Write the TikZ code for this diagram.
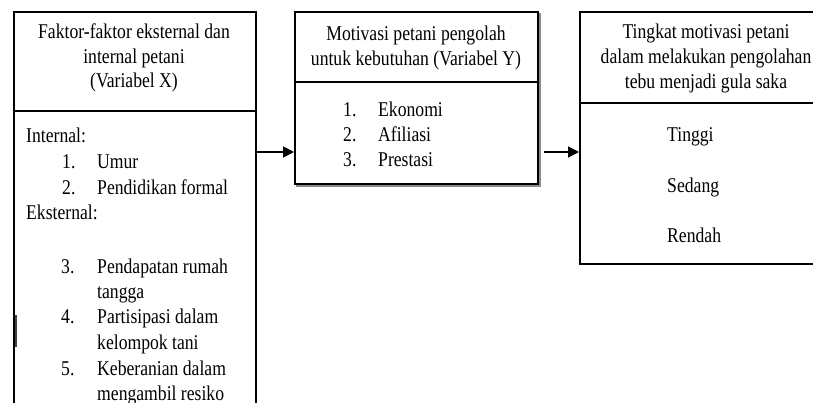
\documentclass[tikz,border=0pt]{standalone}
\usepackage{fontspec}
\setmainfont{Liberation Serif}[FakeStretch=0.84]
\usetikzlibrary{arrows.meta}
\begin{document}
\begin{tikzpicture}[x=1pt,y=-1pt,
  box/.style={draw=black,line width=2pt,fill=white,anchor=north west,inner sep=0pt},
  divider/.style={line width=1.7pt},
  txt/.style={inner sep=0pt,font=\fontsize{21}{24}\selectfont},
  lt/.style={txt,anchor=base west},
  ct/.style={txt,anchor=base},
  arr/.style={line width=1.6pt,-{Triangle[length=11pt,width=11pt]}}
]
\useasboundingbox (0,0) rectangle (813,403);
\begin{scope}
\clip (0,0) rectangle (813,403);
% boxes
\node[box,minimum width=242pt,minimum height=420pt] (L) at (13,11) {};
\draw[line width=1.8pt,black!45] (297,14) rectangle (540,186);
\node[box,minimum width=243pt,minimum height=172pt] (M) at (294,11) {};
\node[box,minimum width=260pt,minimum height=252pt] (R) at (579,11) {};
% dividers
\draw[divider] (L.west |- 0,111) -- (L.east |- 0,111);
\draw[divider] (M.west |- 0,82) -- (M.east |- 0,82);
\draw[divider] (R.west |- 0,103) -- (R.east |- 0,103);
% stray bar
\coordinate (s1) at (16,315);
\coordinate (s2) at (16,347);
\draw[line width=1.4pt,black!75] (s1) -- (s2);
% arrows
\coordinate (y1) at (0,152);
\coordinate (a2s) at (544,152);
\draw[arr] (L.east |- y1) -- (M.west |- y1);
\draw[arr] (a2s) -- (R.west |- y1);
% left box text
\node[ct] (l1) at (134,39) {Faktor-faktor eksternal dan};
\node[ct] (l2) at (134,64) {internal petani};
\node[ct] (l3) at (134,88) {(Variabel X)};
\node[lt] (li) at (26,143) {Internal:};
\node[lt] (n1) at (62,169) {1.};
\node[lt] (t1) at (97,169) {Umur};
\node[lt] (n2) at (62,195) {2.};
\node[lt] (t2) at (97,195) {Pendidikan formal};
\node[lt] (le) at (26,220) {Eksternal:};
\node[lt] (n3) at (61,273) {3.};
\node[lt] (t3) at (97,273) {Pendapatan rumah};
\node[lt] (t3b) at (97,298) {tangga};
\node[lt] (n4) at (61,323) {4.};
\node[lt] (t4) at (97,323) {Partisipasi dalam};
\node[lt] (t4b) at (97,349) {kelompok tani};
\node[lt] (n5) at (61,375) {5.};
\node[lt] (t5) at (97,375) {Keberanian dalam};
\node[lt] (t5b) at (97,400) {mengambil resiko};
% middle box text
\node[ct] (m1) at (416,41) {Motivasi petani pengolah};
\node[ct] (m2) at (416,66) {untuk kebutuhan (Variabel Y)};
\node[lt] (mn1) at (343,117) {1.};
\node[lt] (mt1) at (378,117) {Ekonomi};
\node[lt] (mn2) at (343,142) {2.};
\node[lt] (mt2) at (378,142) {Afiliasi};
\node[lt] (mn3) at (343,167) {3.};
\node[lt] (mt3) at (378,167) {Prestasi};
% right box text
\node[ct] (r1) at (706,39) {Tingkat motivasi petani};
\node[ct] (r2) at (706,64) {dalam melakukan pengolahan};
\node[ct] (r3) at (706,89) {tebu menjadi gula saka};
\node[lt] (rt1) at (667,142) {Tinggi};
\node[lt] (rt2) at (667,193) {Sedang};
\node[lt] (rt3) at (667,243) {Rendah};
\end{scope}
\end{tikzpicture}
\end{document}
